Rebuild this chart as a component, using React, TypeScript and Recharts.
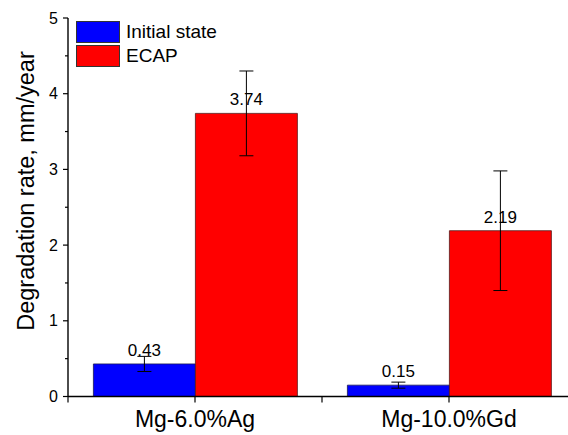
import React from 'react';
import { BarChart, Bar, XAxis, YAxis, ErrorBar, LabelList } from 'recharts';

const categories = ['Mg-6.0%Ag', 'Mg-10.0%Gd'];
const initialState = [0.43, 0.15];
const initialStateErr = [0.1, 0.04];
const ecap = [3.74, 2.19];
const ecapErr = [0.56, 0.79];
const yTicks = [0, 0.5, 1, 1.5, 2, 2.5, 3, 3.5, 4, 4.5, 5];
const legendItems = [
  { label: 'Initial state', color: '#0000ff' },
  { label: 'ECAP', color: '#ff0000' },
];

const data = categories.map((name, i) => ({
  name,
  initial: initialState[i],
  initialErr: initialStateErr[i],
  ecap: ecap[i],
  ecapErr: ecapErr[i],
}));

const FONT = 'Arial, "Liberation Sans", sans-serif';
const CHART_W = 610;
const CHART_H = 435;
const MARGIN = { top: 18, right: 34, left: 0, bottom: 0 };
const Y_AXIS_W = 68;
const BAND = (CHART_W - MARGIN.left - MARGIN.right - Y_AXIS_W) / categories.length;

const YTick = ({ x, y, payload }: any) => {
  const major = Number.isInteger(payload.value);
  return (
    <g>
      <line x1={x} x2={x - (major ? 5 : 3)} y1={y} y2={y} stroke="#000" strokeWidth={1.2} />
      {major && (
        <text x={x - 10} y={y} dy={5.5} textAnchor="end" fontSize={16} fontFamily={FONT} fill="#000">
          {payload.value}
        </text>
      )}
    </g>
  );
};

const XTick = ({ x, y, payload }: any) => (
  <g>
    <line x1={x} x2={x} y1={y} y2={y + 6} stroke="#000" strokeWidth={1.2} />
    <line x1={x - BAND / 2} x2={x - BAND / 2} y1={y} y2={y + 6} stroke="#000" strokeWidth={1.2} />
    <text x={x} y={y + 30} textAnchor="middle" fontSize={23} fontFamily={FONT} fill="#000">
      {payload.value}
    </text>
  </g>
);

const LegendBox = () => (
  <div style={{ position: 'absolute', left: 76, top: 20, fontFamily: FONT, fontSize: 19, color: '#000' }}>
    {legendItems.map((item) => (
      <div key={item.label} style={{ display: 'flex', alignItems: 'center', height: 23, marginBottom: 1 }}>
        <div style={{ width: 42, height: 20, background: item.color, border: '1px solid #333', marginRight: 6 }} />
        <span>{item.label}</span>
      </div>
    ))}
  </div>
);

export default function App() {
  return (
    <div style={{ position: 'fixed', left: 0, top: 0, width: 568, height: 435, overflow: 'hidden', background: '#fff' }}>
      <BarChart
        width={CHART_W}
        height={CHART_H}
        data={data}
        margin={MARGIN}
        barCategoryGap="10%"
        barGap={0}
      >
        <XAxis
          dataKey="name"
          height={38.5}
          interval={0}
          tickSize={0}
          tickMargin={0}
          tickLine={false}
          tick={<XTick />}
          axisLine={{ stroke: '#000', strokeWidth: 1.4 }}
        />
        <YAxis
          width={Y_AXIS_W}
          domain={[0, 5]}
          ticks={yTicks}
          interval={0}
          tickSize={0}
          tickMargin={0}
          tickLine={false}
          tick={<YTick />}
          axisLine={{ stroke: '#000', strokeWidth: 1.4 }}
          label={{
            content: () => (
              <text
                x={26}
                y={191}
                transform="rotate(-90 26 191)"
                textAnchor="middle"
                dominantBaseline="central"
                fontSize={23.5}
                fontFamily={FONT}
                fill="#000"
              >
                Degradation rate, mm/year
              </text>
            ),
          }}
        />
        <Bar dataKey="initial" fill="#0000ff" stroke="#1a1a55" strokeWidth={0.8} isAnimationActive={false}>
          <ErrorBar dataKey="initialErr" direction="y" width={7} stroke="#000" strokeWidth={1} />
          <LabelList dataKey="initial" position="top" offset={8} fontSize={17} fontFamily={FONT} fill="#000" />
        </Bar>
        <Bar dataKey="ecap" fill="#ff0000" stroke="#551a1a" strokeWidth={0.8} isAnimationActive={false}>
          <ErrorBar dataKey="ecapErr" direction="y" width={7} stroke="#000" strokeWidth={1} />
          <LabelList dataKey="ecap" position="top" offset={8} fontSize={17} fontFamily={FONT} fill="#000" />
        </Bar>
      </BarChart>
      <LegendBox />
    </div>
  );
}
